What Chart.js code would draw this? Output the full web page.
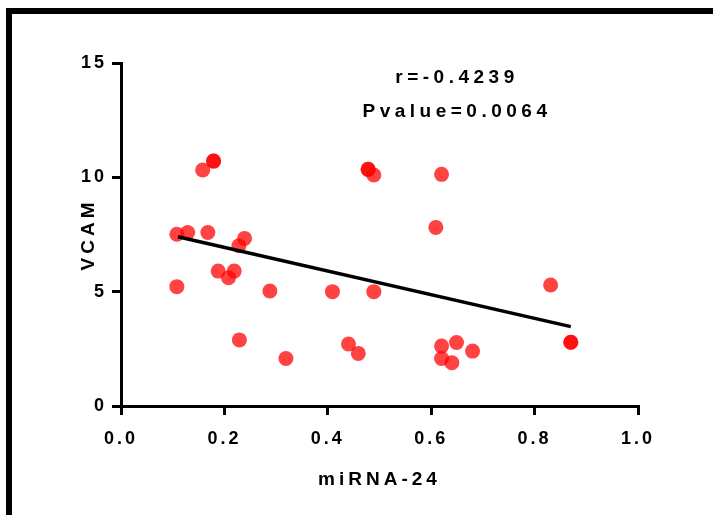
<!DOCTYPE html>
<html>
<head>
<meta charset="utf-8">
<script src="https://cdn.jsdelivr.net/npm/chart.js@4/dist/chart.umd.min.js"></script>
<style>
  html, body { margin: 0; padding: 0; background: #fff; overflow: hidden; }
  #frame { position: absolute; left: 6px; top: 8px; width: 900px; height: 700px;
           border-top: 6px solid #000; border-left: 6px solid #000; box-sizing: border-box; }
  #wrap { position: absolute; left: 0; top: 0; width: 713px; height: 515px; }
</style>
</head>
<body>
<div id="frame"></div>
<div id="wrap"><canvas id="c" width="713" height="515"></canvas></div>
<script>
// ---- data ----
const xValues = [0.108, 0.129, 0.168, 0.158, 0.179, 0.179, 0.108, 0.188, 0.208, 0.219, 0.228, 0.239, 0.288, 0.229, 0.319,
                 0.478, 0.478, 0.489, 0.620, 0.609, 0.409, 0.489, 0.440, 0.459, 0.620, 0.649, 0.680, 0.620, 0.640,
                 0.831, 0.870, 0.870];
const yValues = [7.51, 7.59, 7.59, 10.32, 10.71, 10.71, 5.22, 5.90, 5.61, 5.90, 7.01, 7.33, 5.03, 2.89, 2.08,
                 10.35, 10.35, 10.10, 10.13, 7.81, 5.00, 5.00, 2.71, 2.30, 2.62, 2.78, 2.40, 2.08, 1.89,
                 5.29, 2.79, 2.79];
const fitX = [0.11, 0.87];
const fitY = [7.40, 3.47];
const xTicks = [0, 0.2, 0.4, 0.6, 0.8, 1.0];
const xTickLabels = ['0.0', '0.2', '0.4', '0.6', '0.8', '1.0'];
const yTicks = [0, 5, 10, 15];
const yTickLabels = ['0', '5', '10', '15'];
const xTitle = 'miRNA-24';
const yTitle = 'VCAM';
const annotationLines = ['r=-0.4239', 'Pvalue=0.0064'];

const FONT = '"Liberation Sans", Arial, sans-serif';
const TICK_SPACING = '3px';
const TITLE_SPACING = '4px';
const NOTE_SPACING = '4.5px';

const scatterPts = xValues.map((x, i) => ({ x: x, y: yValues[i] }));
const fitPts = fitX.map((x, i) => ({ x: x, y: fitY[i] }));

function wrapTitles(chart) {
  Object.values(chart.scales).forEach(s => {
    if (s._titleWrapped) return;
    const orig = s.drawTitle;
    s.drawTitle = function () {
      const ctx = this.ctx;
      ctx.save();
      ctx.letterSpacing = TITLE_SPACING;
      orig.apply(this, arguments);
      ctx.restore();
    };
    s._titleWrapped = true;
  });
}

const spacingPlugin = {
  id: 'spacing',
  beforeUpdate(chart) { chart.ctx.letterSpacing = TICK_SPACING; },
  beforeLayout(chart) { chart.ctx.letterSpacing = TICK_SPACING; },
  afterLayout(chart) { wrapTitles(chart); },
  beforeDraw(chart) { chart.ctx.letterSpacing = TICK_SPACING; wrapTitles(chart); }
};

const annotationPlugin = {
  id: 'annot',
  afterDraw(chart) {
    const ctx = chart.ctx;
    ctx.save();
    ctx.letterSpacing = NOTE_SPACING;
    ctx.fillStyle = '#000';
    ctx.font = 'bold 19px ' + FONT;
    ctx.textAlign = 'center';
    ctx.textBaseline = 'middle';
    ctx.fillText(annotationLines[0], 457, 78);
    ctx.fillText(annotationLines[1], 457, 112);
    ctx.restore();
  }
};

const axisCommon = {
  grid: { display: true, drawOnChartArea: false, drawTicks: true, tickLength: 9, color: '#000', lineWidth: 3 },
  border: { display: true, color: '#000', width: 3 }
};

new Chart(document.getElementById('c'), {
  data: {
    datasets: [
      { type: 'line', data: fitPts, borderColor: '#000', borderWidth: 3.5, pointRadius: 0, fill: false, order: 0 },
      { type: 'scatter', data: scatterPts, backgroundColor: 'rgba(255,0,0,0.74)', borderWidth: 0,
        pointRadius: 7.5, pointHoverRadius: 7.5, order: 1 }
    ]
  },
  options: {
    responsive: false,
    devicePixelRatio: 1,
    animation: false,
    layout: { padding: { left: 60, top: 63, right: 75, bottom: 0 } },
    plugins: { legend: { display: false }, tooltip: { enabled: false } },
    elements: { point: { hitRadius: 0 } },
    scales: {
      x: Object.assign({}, axisCommon, {
        type: 'linear', min: 0, max: 1,
        afterBuildTicks(s) { s.ticks = xTicks.map(v => ({ value: v })); },
        afterFit(s) { s.height = 109; },
        ticks: { color: '#000', padding: 13, maxRotation: 0, autoSkip: false,
                 font: { family: FONT, size: 18, weight: 'bold' },
                 callback: (v, i) => xTickLabels[i] },
        title: { display: true, text: xTitle, color: '#000', padding: { top: 0, bottom: 24 },
                 font: { family: FONT, size: 19, weight: 'bold' } }
      }),
      y: Object.assign({}, axisCommon, {
        type: 'linear', min: 0, max: 15,
        afterBuildTicks(s) { s.ticks = yTicks.map(v => ({ value: v })); },
        afterFit(s) { s.width = 61; },
        ticks: { color: '#000', padding: 5, autoSkip: false,
                 font: { family: FONT, size: 18, weight: 'bold' },
                 callback: (v, i) => yTickLabels[i] },
        title: { display: true, text: yTitle, color: '#000', padding: { top: 17, bottom: 0 },
                 font: { family: FONT, size: 19, weight: 'bold' } }
      })
    }
  },
  plugins: [spacingPlugin, annotationPlugin]
});
</script>
</body>
</html>
